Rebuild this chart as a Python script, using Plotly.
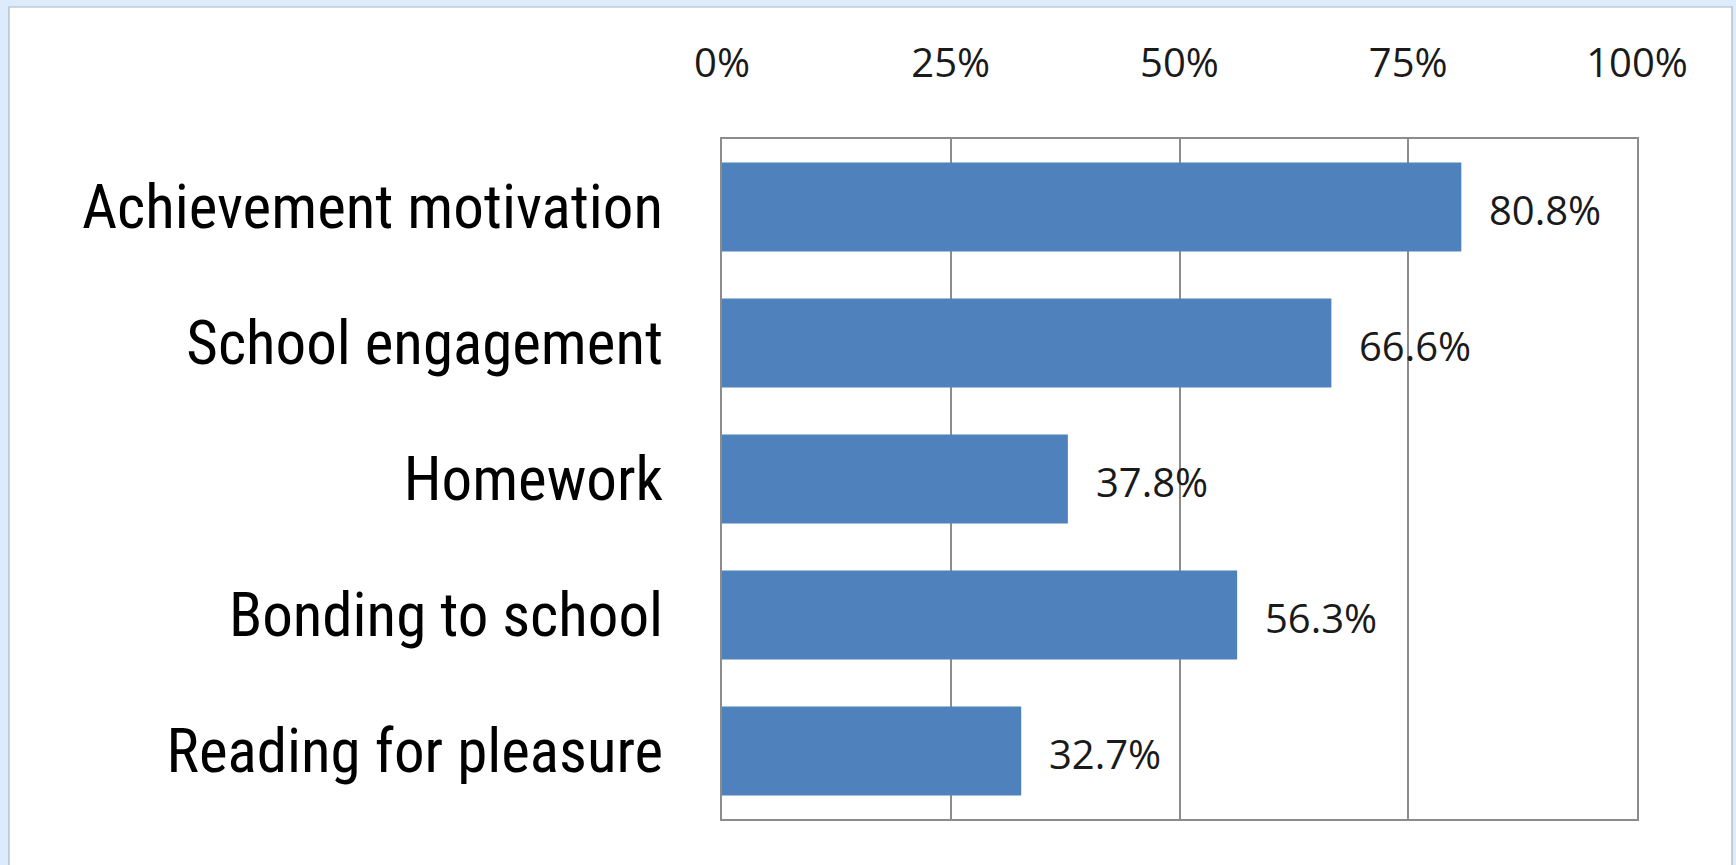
import plotly.graph_objects as go

# Share of students reporting each school-related outcome
categories = [
    "Achievement motivation",
    "School engagement",
    "Homework",
    "Bonding to school",
    "Reading for pleasure",
]
values = [80.8, 66.6, 37.8, 56.3, 32.7]
tick_values = [0, 25, 50, 75, 100]
tick_labels = ["0%", "25%", "50%", "75%", "100%"]

W, H = 1736, 865
L, R, T, B = 722, 99, 139, 46
plot_w = W - L - R
plot_h = H - T - B

BAR = "#4F81BD"
GRID = "#8C8C8C"
LABEL_FONT = "Roboto Condensed, Liberation Sans Narrow, Arial Narrow, sans-serif"
NUM_FONT = "Open Sans, Noto Sans, sans-serif"

fig = go.Figure(
    go.Bar(
        x=values,
        y=categories,
        orientation="h",
        marker=dict(color=BAR, line=dict(width=0)),
        hoverinfo="skip",
    )
)

# value labels to the right of each bar
for cat, v in zip(categories, values):
    fig.add_annotation(
        x=v, y=cat, xref="x", yref="y",
        text=f"{v:.1f}%",
        showarrow=False,
        xanchor="left", yanchor="middle",
        xshift=26, yshift=-2,
        font=dict(family=NUM_FONT, size=40, color="#1a1a1a"),
    )

# white chart panel on the light-blue page
def px_x(px):
    return (px - L) / plot_w

def px_y(py):
    return 1 - (py - T) / plot_h

fig.add_shape(
    type="rect", xref="paper", yref="paper",
    x0=px_x(9), x1=px_x(1732), y0=px_y(900), y1=px_y(7),
    fillcolor="white", line=dict(color="#A9B4C2", width=1.2),
    layer="below",
)

fig.update_layout(
    width=W, height=H,
    margin=dict(l=L, r=R, t=T, b=B, pad=0),
    paper_bgcolor="#DCECFC",
    plot_bgcolor="white",
    bargap=0.346,
    showlegend=False,
    xaxis=dict(
        range=[0, 100],
        side="top",
        tickvals=tick_values,
        ticktext=tick_labels,
        showgrid=True, gridcolor=GRID, gridwidth=1.6,
        showline=True, linecolor=GRID, linewidth=1.6, mirror=True,
        zeroline=False,
        ticks="",
        ticklabelstandoff=44,
        tickfont=dict(family=NUM_FONT, size=40, color="#1a1a1a"),
        automargin=False,
        fixedrange=True,
    ),
    yaxis=dict(
        autorange="reversed",
        showgrid=False,
        showline=True, linecolor=GRID, linewidth=1.6, mirror=True,
        ticks="",
        ticklabelstandoff=45,
        tickfont=dict(family=LABEL_FONT, size=61, color="black"),
        automargin=False,
        fixedrange=True,
    ),
)

fig.write_html("out.html")
